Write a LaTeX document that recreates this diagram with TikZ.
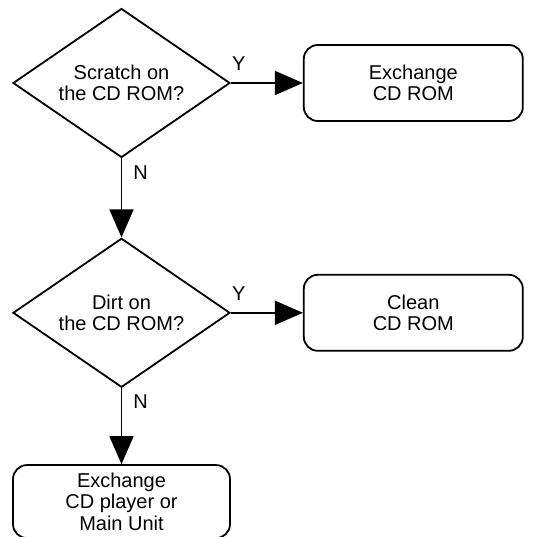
\documentclass[tikz,border=0pt]{standalone}
\usepackage{fontspec}
\setmainfont{Liberation Sans}
\usetikzlibrary{positioning, shapes.geometric, arrows.meta}
\tikzset{>={Triangle[length=28pt,width=24pt]}}

\begin{document}
\begin{tikzpicture}[
    decision/.style={diamond, aspect=1.456, draw, line width=1.8pt, align=center, inner sep=0pt,
        minimum width=217pt, minimum height=149pt},
    action/.style={rectangle, rounded corners=14pt, draw, line width=1.8pt, align=center,
        minimum width=219pt, minimum height=76pt},
    flow/.style={->, line width=1.8pt},
    answer/.style={inner sep=0pt},
    font=\fontsize{20}{21.5}\selectfont]
    \useasboundingbox (0,0) rectangle (544pt,536pt);

    \node[decision] (q1) at (121.5pt,453pt) {Scratch on\\the CD ROM?};
    \node[action, right=72pt of q1] (swap) {Exchange\\CD ROM};
    \node[decision, below=79pt of q1] (q2) {Dirt on\\the CD ROM?};
    \node[action, right=72pt of q2] (clean) {Clean\\CD ROM};
    \node[action, below=76pt of q2, minimum width=217pt, minimum height=73pt] (unit)
        {Exchange\\CD player or\\Main Unit};

    \draw[flow] (q1.east) -- (swap.west)
        node[answer, pos=0, xshift=8pt, yshift=19pt] {Y};
    \draw[flow] (q1.south) -- (q2.north)
        node[answer, pos=0, xshift=19pt, yshift=-14pt] {N};
    \draw[flow] (q2.east) -- (clean.west)
        node[answer, pos=0, xshift=8pt, yshift=19pt] {Y};
    \draw[flow] (q2.south) -- (unit.north)
        node[answer, pos=0, xshift=19pt, yshift=-13pt] {N};
\end{tikzpicture}
\end{document}
